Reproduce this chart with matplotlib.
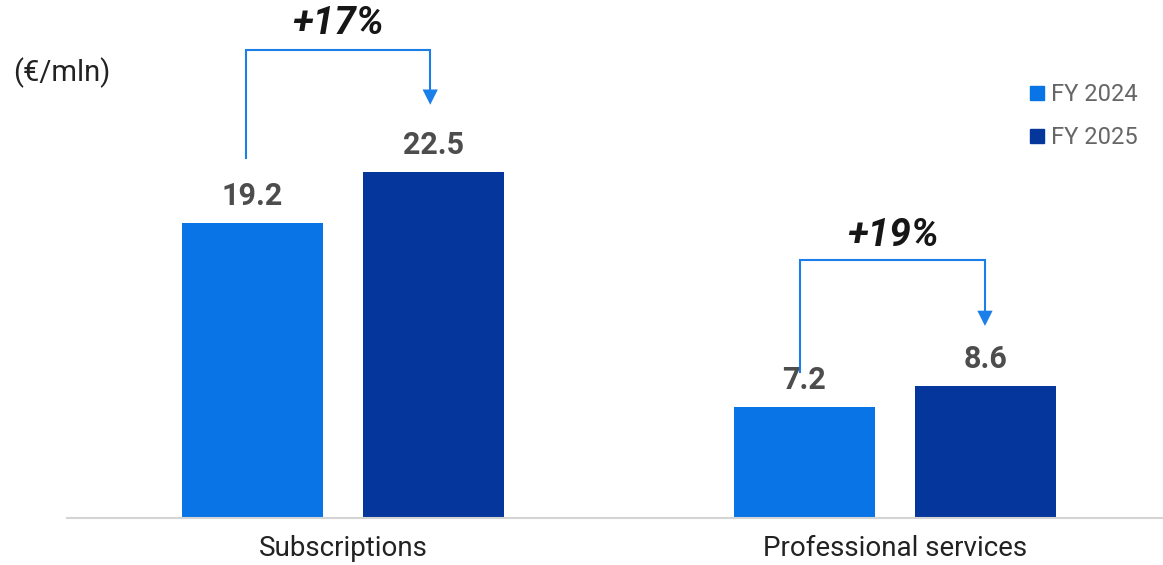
import matplotlib.pyplot as plt
from matplotlib.lines import Line2D
import numpy as np

plt.rcParams['font.family'] = ['Roboto', 'DejaVu Sans']

##### Data #####
categories = ['Subscriptions', 'Professional services']
fy2024 = [19.2, 7.2]
fy2025 = [22.5, 8.6]
growth = ['+17%', '+19%']
series_names = ['FY 2024', 'FY 2025']

##### Style #####
c24 = '#0874e6'
c25 = '#04369c'
bar_w = 0.257
off = 0.164
# bracket geometry per group: start y, top y, arrow tip y, label y
brackets = [(23.44, 30.47, 26.9, 32.2), (9.5, 16.8, 12.5, 18.4)]
br_x = [(-0.176, 0.158), (-0.172, 0.163)]

fig = plt.figure(figsize=(11.63, 5.65), dpi=100)
ax = fig.add_axes([67 / 1163, 47 / 565, 1096 / 1163, 518 / 565])

x = np.arange(len(categories))
b1 = ax.bar(x - off, fy2024, bar_w, color=c24)
b2 = ax.bar(x + off, fy2025, bar_w, color=c25)

for bars, vals in [(b1, fy2024), (b2, fy2025)]:
    for rect, v in zip(bars, vals):
        ax.annotate(f'{v}', (rect.get_x() + rect.get_width() / 2, v),
                    xytext=(0, 13), textcoords='offset points',
                    ha='center', va='baseline', fontsize=22, fontweight='bold',
                    color='#4d4d4d')

# growth brackets
for i in range(len(categories)):
    y0, ytop, ytip, ylab = brackets[i]
    xl, xr = x[i] + br_x[i][0], x[i] + br_x[i][1]
    ax.plot([xl, xl, xr, xr], [y0, ytop, ytop, ytip + 0.8], color='#1a7fe8',
            lw=1.5, solid_joinstyle='miter')
    ax.annotate('', xy=(xr, ytip), xytext=(xr, ytip + 1.3),
                arrowprops=dict(arrowstyle='-|>,head_width=0.55,head_length=1.1',
                                color='#1a7fe8', lw=0, shrinkA=0, shrinkB=0))
    ax.text((xl + xr) / 2, ylab, growth[i], ha='center', va='center',
            fontsize=28, fontweight='bold', fontstyle='italic', color='#161616')

ax.set_xlim(-0.5, 1.4855)
ax.set_ylim(0, 33.72)
ax.set_xticks(x)
ax.set_xticklabels(categories, fontsize=20, color='#222222')
ax.tick_params(axis='x', length=0, pad=12)
ax.set_yticks([])
for s in ['top', 'right', 'left']:
    ax.spines[s].set_visible(False)
ax.spines['bottom'].set_color('#d4d4d4')
ax.spines['bottom'].set_linewidth(1.5)

fig.text(13 / 1163, 1 - 73 / 565, '(€/mln)', fontsize=21, color='#222222',
         va='center', ha='left')

handles = [Line2D([], [], marker='s', ls='none', markersize=10, color=c)
           for c in [c24, c25]]
leg = fig.legend(handles, series_names, loc='upper right',
                 bbox_to_anchor=(1150 / 1163, 1 - 71 / 565), frameon=False,
                 fontsize=17, handletextpad=0.1, labelspacing=0.85,
                 borderpad=0, handlelength=1.0)
for t in leg.get_texts():
    t.set_color('#666666')

fig.savefig('out.png', dpi=100)
